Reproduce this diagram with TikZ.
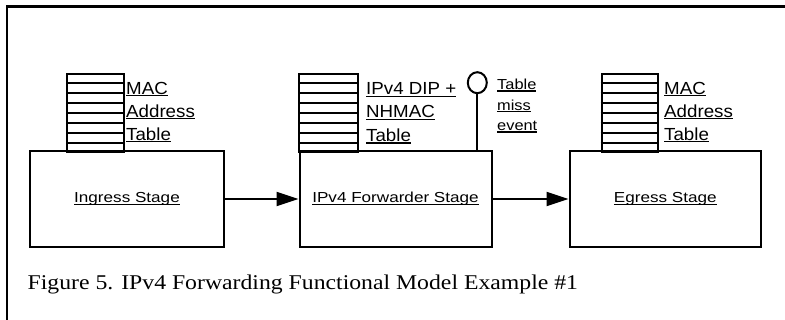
\documentclass[tikz,border=0pt]{standalone}
\usepackage{fontspec}
\usepackage{graphicx}
\usetikzlibrary{arrows.meta,calc,shapes.geometric}
\setmainfont{Liberation Serif}
\newfontfamily\sansfam{Liberation Sans}
% horizontally widened text
\newcommand\wide[2]{\scalebox{#1}[1]{#2}}
% underlined, widened label; rule close to the baseline
\newcommand\ulbl[2]{\setbox0=\hbox{\scalebox{#1}[1]{#2}}\rlap{\rule[-2.2pt]{\wd0}{1.2pt}}\box0}
\tikzset{
  stage/.style={draw, line width=2pt, minimum height=96pt, inner sep=0pt,
    font=\sansfam\fontsize{14.5pt}{16pt}\selectfont},
  tablestack/.style={draw, line width=2pt, minimum height=77.7pt, inner sep=0pt, anchor=north},
  tlabel/.style={anchor=base west, inner sep=0pt, font=\sansfam\fontsize{17.5pt}{20pt}\selectfont},
  evlabel/.style={anchor=base west, inner sep=0pt, font=\sansfam\fontsize{14.5pt}{16pt}\selectfont},
  flow/.style={line width=2pt, -{Triangle[length=22pt,width=14pt]}},
  frame/.style={line width=2.3pt, line join=miter}
}
\begin{document}
\begin{tikzpicture}[x=1pt, y=-1pt]
\useasboundingbox (0,0) rectangle (785,320);

% page frame (top and left edges)
\coordinate (frtr) at (785,6.5);
\coordinate (frtl) at (7,6.5);
\coordinate (frbl) at (7,320);
\draw[frame] (frtr) -- (frtl) -- (frbl);

% stages
\node[stage, minimum width=194pt] (ing) at (127,199) {\ulbl{1.18}{Ingress Stage}};
\node[stage, minimum width=192pt] (fwd) at (395.5,199) {\ulbl{1.18}{IPv4 Forwarder Stage}};
\node[stage, minimum width=191.5pt] (egr) at (665.25,199) {\ulbl{1.18}{Egress Stage}};

% lookup tables on top of the stages
\node[tablestack, minimum width=56.7pt] (ingt) at (95.7,73.3) {};
\node[tablestack, minimum width=58.5pt] (fwdt) at (328.7,73.3) {};
\node[tablestack, minimum width=56.6pt] (egrt) at (630,73.3) {};
\foreach \t in {ingt,fwdt,egrt}{
  \foreach \k in {1,...,7}{
    \draw[line width=2pt] ($(\t.north west)!\k/8!(\t.south west)$) -- ($(\t.north east)!\k/8!(\t.south east)$);
  }
}

% table labels
\node[tlabel] (ingl1) at (126,94.3) {\ulbl{1.07}{MAC}};
\node[tlabel] (ingl2) at (126,117.3) {\ulbl{1.07}{Address}};
\node[tlabel] (ingl3) at (126,140.3) {\ulbl{1.07}{Table}};

\node[tlabel] (fwdl1) at (366,95) {\ulbl{1.07}{IPv4 DIP +}};
\node[tlabel] (fwdl2) at (366,118) {\ulbl{1.07}{NHMAC}};
\node[tlabel] (fwdl3) at (366,141.5) {\ulbl{1.07}{Table}};

\node[tlabel] (egrl1) at (664,94.3) {\ulbl{1.07}{MAC}};
\node[tlabel] (egrl2) at (664,117.3) {\ulbl{1.07}{Address}};
\node[tlabel] (egrl3) at (664,140.3) {\ulbl{1.07}{Table}};

% table-miss event port
\node[draw, ellipse, line width=2pt, minimum width=19pt, minimum height=21pt, inner sep=0pt] (miss) at (477.3,82.7) {};
\draw[line width=2pt] (miss.south) -- (miss.south |- fwd.north);
\node[evlabel] (ev1) at (497,89.5) {\ulbl{1.13}{Table}};
\node[evlabel] (ev2) at (497,110.3) {\ulbl{1.13}{miss}};
\node[evlabel] (ev3) at (497,130.5) {\ulbl{1.13}{event}};

% pipeline flow
\draw[flow] (ing) -- (fwd);
\draw[flow] (fwd) -- (egr);

% caption
\node[anchor=base west, inner sep=0pt, font=\fontsize{21pt}{24pt}\selectfont] (cap) at (27.5,290)
  {\wide{1.13}{Figure 5. IPv4 Forwarding Functional Model Example \#1}};
\end{tikzpicture}
\end{document}
